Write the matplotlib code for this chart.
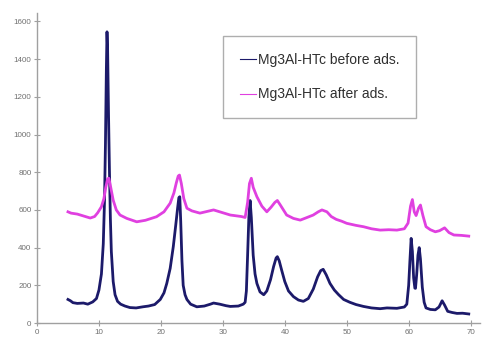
import matplotlib

matplotlib.use('Agg')
import matplotlib.pyplot as plt

# Diffractogram (2theta, counts)
two_theta_before = [5.0, 5.4, 5.8, 6.5, 7.5, 8.2, 8.6, 9.0, 9.6, 10.0, 10.4, 10.7, 10.9, 11.05,
                    11.2, 11.3, 11.4, 11.55, 11.7, 11.85, 12.0, 12.3, 12.6, 13.0, 13.5, 14.2,
                    15.0, 16.0, 17.1, 18.0, 19.0, 19.9, 20.5, 20.95, 21.5, 22.0, 22.4, 22.7,
                    22.9, 23.05, 23.2, 23.4, 23.6, 23.9, 24.2, 24.8, 25.8, 27.0, 28.0, 28.5,
                    29.5, 30.5, 31.2, 32.5, 33.3, 33.6, 33.8, 34.0, 34.2, 34.4, 34.6, 34.9,
                    35.2, 35.5, 36.0, 36.6, 37.1, 37.7, 38.2, 38.6, 38.8, 39.1, 39.5, 40.0,
                    40.6, 41.4, 42.2, 43.0, 43.8, 44.6, 45.3, 45.8, 46.2, 46.7, 47.3, 48.0,
                    48.7, 49.5, 50.5, 51.5, 52.7, 54.0, 55.4, 56.5, 58.1, 59.3, 59.7, 60.0,
                    60.2, 60.4, 60.6, 60.8, 61.0, 61.1, 61.3, 61.5, 61.7, 61.9, 62.2, 62.5,
                    62.8, 63.5, 64.3, 64.9, 65.4, 65.8, 66.3, 67.0, 67.8, 68.7, 69.7]
counts_before = [125, 118, 108, 104, 106, 100, 106, 112, 130, 175, 260, 420, 650, 950,
                 1350, 1545, 1450, 1100, 800, 550, 380, 220, 150, 115, 100, 90,
                 82, 80, 86, 90, 98, 125, 160, 210, 290, 405, 520, 610,
                 665, 670, 540, 330, 200, 150, 125, 100, 86, 90, 100, 106,
                 100, 92, 88, 90, 100, 110, 170, 360, 560, 650, 560, 360,
                 260, 210, 165, 150, 170, 230, 300, 345, 352, 330, 280, 220,
                 170, 140, 122, 115, 130, 180, 245, 278, 285, 255, 210, 175,
                 150, 125, 110, 98, 88, 80, 76, 80, 78, 85, 100, 200,
                 330, 449, 380, 240, 185, 184, 260, 360, 400, 340, 190, 110,
                 80, 72, 70, 85, 118, 95, 62, 56, 51, 52, 48]

two_theta_after = [5.0, 5.5, 6.5, 7.5, 8.6, 9.3, 9.8, 10.4, 10.8, 11.1, 11.4, 11.6, 11.9,
                   12.3, 12.8, 13.4, 14.5, 16.1, 17.5, 19.3, 20.5, 21.5, 22.1, 22.5, 22.8,
                   23.0, 23.3, 23.7, 24.2, 25.0, 26.3, 28.5, 30.0, 31.2, 33.0, 33.6, 34.0,
                   34.3, 34.6, 34.9, 35.5, 36.3, 37.1, 37.8, 38.4, 38.8, 39.3, 40.3, 41.4,
                   42.5, 43.6, 44.6, 45.4, 46.0, 46.8, 47.5, 48.3, 49.2, 50.0, 51.5, 52.7,
                   54.0, 55.4, 56.8, 58.1, 59.3, 59.9, 60.3, 60.6, 60.9, 61.2, 61.6, 61.9,
                   62.3, 62.8, 63.5, 64.3, 65.0, 65.8, 66.5, 67.3, 68.5, 69.7]
counts_after = [590, 583, 578, 568, 557, 565, 585, 617, 660, 720, 765, 768, 720,
                652, 600, 573, 555, 537, 545, 564, 590, 636, 690, 745, 780,
                785, 740, 660, 609, 595, 583, 600, 585, 573, 565, 560, 640,
                740, 768, 720, 670, 620, 590, 615, 640, 650, 625, 573, 555,
                546, 560, 573, 590, 600, 590, 565, 550, 540, 529, 518, 511,
                500, 493, 495, 493, 500, 530, 620, 655, 590, 570, 610, 626,
                570, 511, 495, 484, 490, 505, 480, 467, 465, 461]

label_before = "Mg3Al-HTc before ads."
label_after = "Mg3Al-HTc after ads."

plt.rcParams['font.family'] = ['Liberation Sans', 'DejaVu Sans']

fig = plt.figure(figsize=(4.83, 3.37), dpi=100)
ax = fig.add_axes([0.0766, 0.0415, 0.917, 0.92])

ax.plot(two_theta_before, counts_before, color='#1c1a6a', linewidth=2.0, label=label_before)
ax.plot(two_theta_after, counts_after, color='#e040e0', linewidth=2.0, label=label_after)

ax.set_xlim(0, 71.5)
ax.set_ylim(0, 1645)
ax.set_xticks(range(0, 71, 10))
ax.set_yticks(range(0, 1601, 200))

for side in ['top', 'right']:
    ax.spines[side].set_visible(False)
for side in ['left', 'bottom']:
    ax.spines[side].set_color('#a0a0a0')
    ax.spines[side].set_linewidth(1.0)
ax.tick_params(direction='inout', length=4, width=0.8, color='#a0a0a0',
               labelsize=5.8, labelcolor='#707070', pad=2)

leg = ax.legend(loc='upper left', bbox_to_anchor=(0.42, 0.926), fontsize=10,
                frameon=True, fancybox=False, handlelength=1.2, handletextpad=0.1,
                borderpad=1.2, labelspacing=1.5, borderaxespad=0)
leg.get_frame().set_edgecolor('#9a9a9a')
leg.get_frame().set_linewidth(1.0)
for line in leg.get_lines():
    line.set_linewidth(0.8)
for text in leg.get_texts():
    text.set_color('#303030')

fig.savefig('out.png', dpi=100)
